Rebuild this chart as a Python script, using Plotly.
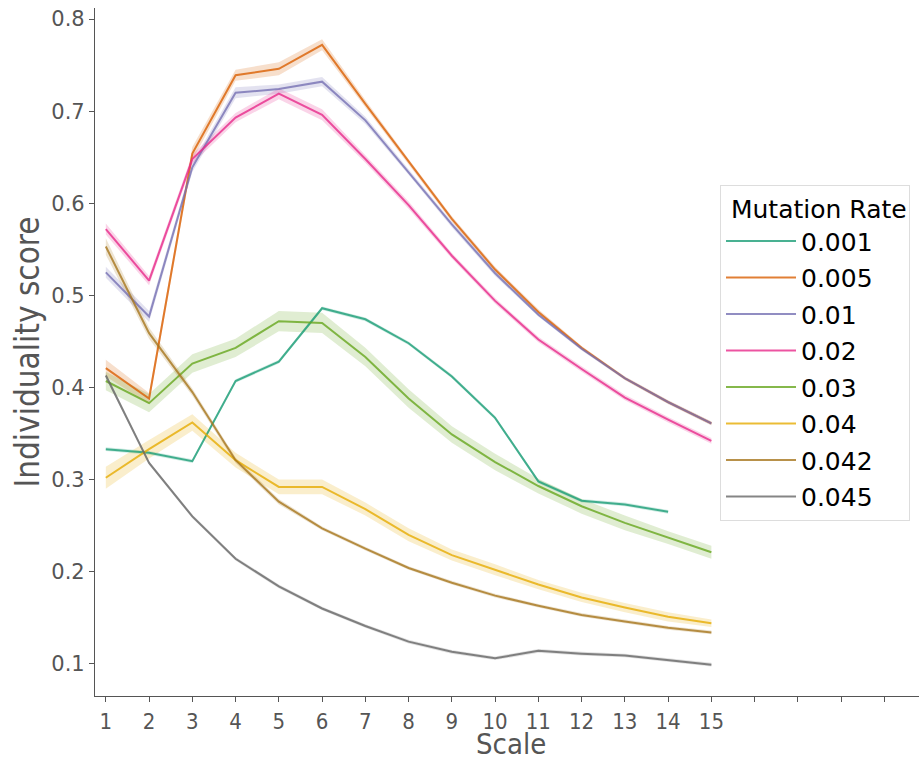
import plotly.graph_objects as go

scales = list(range(1, 16))
rates = ["0.001", "0.005", "0.01", "0.02", "0.03", "0.04", "0.042", "0.045"]
colors = ["#1b9e77", "#d95f02", "#7570b3", "#e7298a", "#66a61e", "#e6ab02", "#a6761d", "#666666"]

r_0001 = [0.333, 0.329, 0.320, 0.407, 0.428, 0.486, 0.474, 0.448, 0.412, 0.367, 0.298, 0.277, 0.273, 0.265]
r_0005 = [0.421, 0.388, 0.654, 0.739, 0.746, 0.772, 0.708, 0.645, 0.583, 0.528, 0.482, 0.443, 0.410, 0.384, 0.361]
r_001 = [0.525, 0.477, 0.639, 0.720, 0.724, 0.732, 0.690, 0.634, 0.577, 0.524, 0.479, 0.442, 0.410, 0.384, 0.361]
r_002 = [0.572, 0.516, 0.648, 0.693, 0.719, 0.696, 0.648, 0.598, 0.543, 0.494, 0.452, 0.420, 0.389, 0.365, 0.342]
r_003 = [0.407, 0.383, 0.426, 0.443, 0.472, 0.470, 0.433, 0.388, 0.349, 0.319, 0.293, 0.271, 0.253, 0.237, 0.221]
r_004 = [0.302, 0.333, 0.362, 0.321, 0.292, 0.292, 0.268, 0.240, 0.218, 0.202, 0.186, 0.172, 0.161, 0.151, 0.144]
r_0042 = [0.553, 0.459, 0.395, 0.321, 0.276, 0.247, 0.225, 0.204, 0.188, 0.174, 0.163, 0.153, 0.146, 0.139, 0.134]
r_0045 = [0.413, 0.318, 0.260, 0.214, 0.184, 0.160, 0.141, 0.124, 0.113, 0.106, 0.114, 0.111, 0.109, 0.104, 0.099]

# estimated half-widths of the confidence bands
ci_0001 = [0.002] * 14
ci_0005 = [0.009, 0.006, 0.007, 0.006, 0.007, 0.006, 0.004, 0.003, 0.003, 0.003, 0.003, 0.002, 0.002, 0.002, 0.002]
ci_001 = [0.006, 0.006, 0.005, 0.006, 0.005, 0.005, 0.004, 0.003, 0.003, 0.003, 0.002, 0.002, 0.002, 0.002, 0.002]
ci_002 = [0.006, 0.005, 0.005, 0.005, 0.006, 0.006, 0.004, 0.004, 0.003, 0.003, 0.003, 0.003, 0.003, 0.003, 0.003]
ci_003 = [0.010, 0.010, 0.010, 0.010, 0.011, 0.011, 0.010, 0.010, 0.009, 0.009, 0.008, 0.008, 0.008, 0.007, 0.007]
ci_004 = [0.012, 0.010, 0.009, 0.008, 0.008, 0.008, 0.007, 0.007, 0.006, 0.006, 0.005, 0.005, 0.005, 0.005, 0.004]
ci_0042 = [0.009, 0.006, 0.004, 0.003, 0.003, 0.002, 0.002, 0.002, 0.002, 0.002, 0.002, 0.002, 0.002, 0.002, 0.002]
ci_0045 = [0.003, 0.002, 0.002, 0.002, 0.002, 0.002, 0.002, 0.002, 0.002, 0.002, 0.002, 0.002, 0.002, 0.002, 0.002]

series = [r_0001, r_0005, r_001, r_002, r_003, r_004, r_0042, r_0045]
cis = [ci_0001, ci_0005, ci_001, ci_002, ci_003, ci_004, ci_0042, ci_0045]

x_ticks = list(range(1, 20))
x_labels = [str(v) if v <= 15 else "" for v in x_ticks]
y_ticks = [0.1, 0.2, 0.3, 0.4, 0.5, 0.6, 0.7, 0.8]
x_title = "Scale"
y_title = "Individuality score"


def rgba(h, a):
    h = h.lstrip("#")
    return "rgba(%d,%d,%d,%s)" % (int(h[0:2], 16), int(h[2:4], 16), int(h[4:6], 16), a)


fig = go.Figure()
for name, col, ys, ci in zip(rates, colors, series, cis):
    xs = scales[:len(ys)]
    upper = [y + c for y, c in zip(ys, ci)]
    lower = [y - c for y, c in zip(ys, ci)]
    fig.add_trace(go.Scatter(x=xs + xs[::-1], y=upper + lower[::-1], fill="toself",
                             fillcolor=rgba(col, 0.2), line=dict(width=0),
                             hoverinfo="skip", showlegend=False))
for name, col, ys in zip(rates, colors, series):
    xs = scales[:len(ys)]
    fig.add_trace(go.Scatter(x=xs, y=ys, mode="lines", name=name, legendgroup=name,
                             line=dict(color=rgba(col, 0.8), width=2)))

fig.add_annotation(text=x_title, xref="paper", yref="paper", x=0.505, y=-0.0959,
                   xanchor="center", yanchor="bottom", showarrow=False, borderpad=0,
                   font=dict(size=29, family="DejaVu Sans Condensed", color="#555555"))

fig.update_layout(
    width=919, height=762,
    margin=dict(l=95, r=0, t=8, b=66),
    plot_bgcolor="white", paper_bgcolor="white",
    font=dict(family="DejaVu Sans", color="#555555"),
    legend=dict(
        title=dict(text=" Mutation Rate", font=dict(size=25, color="black", family="DejaVu Sans")),
        font=dict(size=25, color="black", family="DejaVu Sans"),
        x=0.7585, y=0.743, xanchor="left", yanchor="top",
        traceorder="grouped", tracegroupgap=1, itemwidth=70,
        bgcolor="rgba(255,255,255,0.85)", bordercolor="#dddddd", borderwidth=1,
    ),
    xaxis=dict(
        range=[0.75, 19.8], tickvals=x_ticks, ticktext=x_labels, automargin=False,
        showline=True, linecolor="#555555", linewidth=1.2,
        ticks="outside", ticklen=5, tickcolor="#555555",
        showgrid=False, zeroline=False,
        tickfont=dict(size=22, family="DejaVu Sans Condensed", color="#555555"),
    ),
    yaxis=dict(
        range=[0.065, 0.812], tickvals=y_ticks, ticktext=["%.1f" % v for v in y_ticks], automargin=False,
        showline=True, linecolor="#555555", linewidth=1.2,
        ticks="outside", ticklen=5, tickcolor="#555555",
        showgrid=False, zeroline=False,
        tickfont=dict(size=21, family="DejaVu Sans", color="#555555"),
        title=dict(text=y_title, font=dict(size=33, family="DejaVu Sans Condensed", color="#555555"), standoff=1),
    ),
)

fig.write_html("out.html", config={"displayModeBar": False},
               post_script="document.body.style.margin='0';")
